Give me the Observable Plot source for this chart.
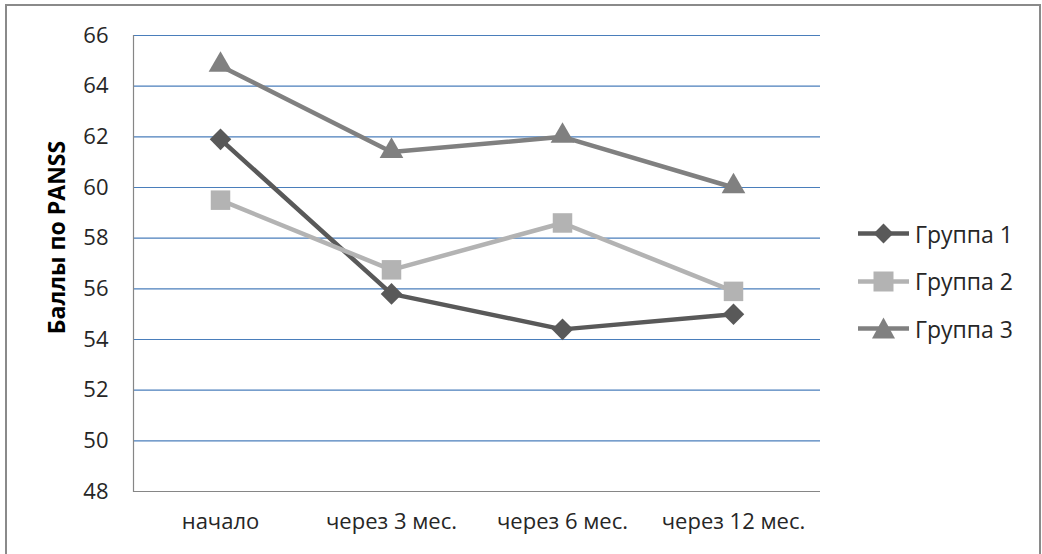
<!DOCTYPE html>
<html>
<head>
<meta charset="utf-8">
<script src="https://cdn.jsdelivr.net/npm/d3@7"></script>
<script src="https://cdn.jsdelivr.net/npm/@observablehq/plot@0.6"></script>
<style>
  html, body { margin: 0; padding: 0; background: #fff; }
  #wrap { position: relative; width: 1042px; height: 554px; overflow: hidden; font-family: "Open Sans", sans-serif; }
  #border { position: absolute; left: 5px; top: 4px; width: 1032px; height: 600px; border: 2px solid #8a8a8a; border-bottom: none; }
  #chart { position: absolute; left: 0; top: 0; }
  #legend { position: absolute; left: 858px; top: 210px; }
  .item { display: flex; align-items: center; height: 47.5px; font-size: 23px; color: #262626; }
  .item svg { margin-right: 5px; }
</style>
</head>
<body>
<div id="wrap">
  <div id="border"></div>
  <div id="chart"></div>
  <div id="legend"></div>
</div>
<script>
const categories = ["начало", "через 3 мес.", "через 6 мес.", "через 12 мес."];
const seriesNames = ["Группа 1", "Группа 2", "Группа 3"];
const group1 = [61.9, 55.8, 54.4, 55.0];
const group2 = [59.5, 56.75, 58.6, 55.9];
const group3 = [64.8, 61.4, 62.0, 60.0];
const yTicks = [48, 50, 52, 54, 56, 58, 60, 62, 64, 66];
const yTitle = "Баллы по PANSS";
const colors = ["#595959", "#b3b3b3", "#808080"];

const seriesValues = [group1, group2, group3];
const data = [];
seriesNames.forEach((s, i) => {
  seriesValues[i].forEach((v, j) => data.push({series: s, cat: categories[j], value: v}));
});
const bySeries = s => data.filter(d => d.series === s);

const plot = Plot.plot({
  width: 1042,
  height: 554,
  marginLeft: 133,
  marginRight: 222,
  marginTop: 35,
  marginBottom: 63,
  style: {fontFamily: "Open Sans, sans-serif", fontSize: "22px", color: "#262626", background: "transparent"},
  x: {type: "point", domain: categories, padding: 0.5, align: 0.5, label: null},
  y: {domain: [48, 66], label: null},
  color: {domain: seriesNames, range: colors},
  marks: [
    Plot.ruleY(yTicks.filter(t => t > 48), {stroke: "#4a7ebb", strokeWidth: 1.2}),
    Plot.ruleY([48], {stroke: "#868686", strokeWidth: 1.2}),
    Plot.frame({anchor: "left", stroke: "#868686", strokeWidth: 1.2}),
    Plot.axisY({ticks: yTicks, tickSize: 0, tickPadding: 25, tickFormat: d => String(d), label: null}),
    Plot.axisX({tickSize: 0, tickPadding: 22, label: null}),
    Plot.text([yTitle], {frameAnchor: "left", textAnchor: "middle", dx: -76, dy: -26, rotate: -90, fontWeight: "bold", fontSize: 23, fill: "#000"}),
    Plot.line(data, {x: "cat", y: "value", z: "series", stroke: "series", strokeWidth: 4.5}),
    Plot.dot(bySeries("Группа 1"), {x: "cat", y: "value", symbol: () => "square", r: 8.6, rotate: 45, fill: colors[0], stroke: "none"}),
    Plot.dot(bySeries("Группа 2"), {x: "cat", y: "value", symbol: () => "square", r: 11, fill: colors[1], stroke: "none"}),
    Plot.dot(bySeries("Группа 3"), {x: "cat", y: "value", symbol: () => "triangle", r: 8.8, fill: colors[2], stroke: "none", dy: -1})
  ]
});
document.getElementById("chart").appendChild(plot);

// Legend
const legend = document.getElementById("legend");
seriesNames.forEach((s, i) => {
  const item = document.createElement("div");
  item.className = "item";
  let shape;
  if (i === 0) shape = `<rect x="18.5" y="5.5" width="14" height="14" fill="${colors[0]}" transform="rotate(45 25.5 12.5)"/>`;
  else if (i === 1) shape = `<rect x="15.5" y="2.5" width="20" height="20" fill="${colors[1]}"/>`;
  else shape = `<path d="M25.5,1.5 L37,22.5 L14,22.5 Z" fill="${colors[2]}"/>`;
  item.innerHTML = `<svg width="52" height="25"><line x1="0" y1="12.5" x2="51" y2="12.5" stroke="${colors[i]}" stroke-width="4.5"/>${shape}</svg><span>${s}</span>`;
  legend.appendChild(item);
});
</script>
</body>
</html>
